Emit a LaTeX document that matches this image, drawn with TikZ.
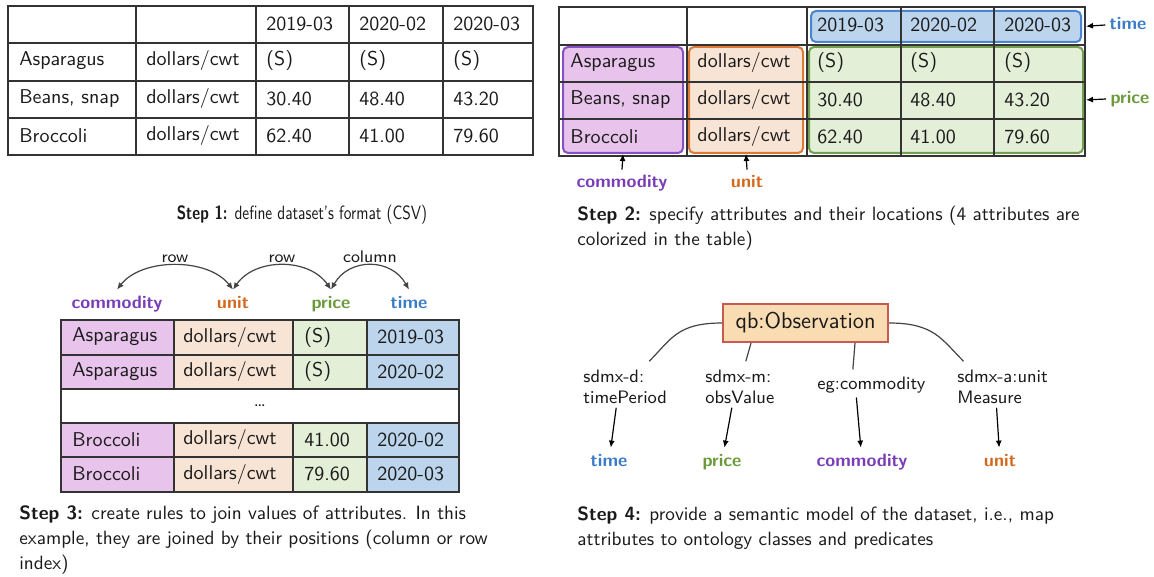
\documentclass[tikz,border=0pt]{standalone}
\usepackage{fontspec}
\usetikzlibrary{arrows.meta,calc}
\definecolor{cPurple}{HTML}{7A3DB8}
\definecolor{cPurpleFill}{HTML}{E8C4EC}
\definecolor{cPurpleLine}{HTML}{8A4FC0}
\definecolor{cOrange}{HTML}{D2691E}
\definecolor{cOrangeFill}{HTML}{F8E4D4}
\definecolor{cOrangeLine}{HTML}{DD7A35}
\definecolor{cGreen}{HTML}{6A9A3A}
\definecolor{cGreenFill}{HTML}{E4EFD8}
\definecolor{cGreenLine}{HTML}{72A050}
\definecolor{cBlue}{HTML}{3A7CC8}
\definecolor{cBlueFill}{HTML}{BDD5EC}
\definecolor{cBlueLine}{HTML}{4A86D0}
\definecolor{cObsFill}{HTML}{F9DCB2}
\definecolor{cObsLine}{HTML}{C85A50}
\definecolor{cGrid}{HTML}{333333}
\definecolor{cText}{HTML}{1A1A1A}
\definecolor{cEdge}{HTML}{444444}
\begin{document}
\begin{tikzpicture}[x=0.5pt,y=-0.5pt,
  cell/.style={anchor=west, inner sep=0pt, text=cText, font=\sffamily\fontsize{10}{12}\selectfont},
  attr/.style={inner sep=2pt, text height=7pt, text depth=2pt, font=\sffamily\bfseries\fontsize{9}{11}\selectfont},
  gridline/.style={draw=cGrid, line width=0.8pt},
  gridbold/.style={draw=cGrid, line width=1pt},
  region/.style={rounded corners=2.5pt, line width=1pt, inner sep=0pt},
  caption/.style={anchor=west, align=left, inner sep=0pt, text=cText, font=\sffamily\fontsize{9.6}{12.5}\selectfont},
  pred/.style={anchor=west, align=left, inner sep=2pt, text=cText, font=\sffamily\fontsize{9}{10.5}\selectfont},
  joinlbl/.style={midway, above, inner sep=1pt, text=cText, font=\sffamily\fontsize{8.4}{10}\selectfont},
  arr/.style={-{Latex[length=3.5pt,width=3pt]}, line width=0.6pt, draw=black},
  joinarc/.style={{Latex[length=3.5pt,width=3pt]}-{Latex[length=3.5pt,width=3pt]}, line width=0.6pt, draw=cEdge},
  edge/.style={line width=0.6pt, draw=cEdge}
]
\fill[white] (0,0) rectangle (1154,577);
\useasboundingbox (0,0) rectangle (1154,577);

%%%%%%%% Step 1 table
\draw[gridline] (8,6) rectangle (533,155);
\foreach \x in {136,256,349,443} \draw[gridline] (\x,6) -- (\x,155);
\foreach \y in {43,81,118} \draw[gridline] (8,\y) -- (533,\y);
\node[cell] (a13) at (266,23.5) {2019-03};
\node[cell] (a14) at (359,23.5) {2020-02};
\node[cell] (a15) at (453,23.5) {2020-03};
\node[cell] (a21) at (19,61) {Asparagus};
\node[cell] (a22) at (146,61) {dollars/cwt};
\node[cell] (a23) at (266,61) {(S)};
\node[cell] (a24) at (359,61) {(S)};
\node[cell] (a25) at (453,61) {(S)};
\node[cell] (a31) at (19,98.5) {Beans, snap};
\node[cell] (a32) at (146,98.5) {dollars/cwt};
\node[cell] (a33) at (266,98.5) {30.40};
\node[cell] (a34) at (359,98.5) {48.40};
\node[cell] (a35) at (453,98.5) {43.20};
\node[cell] (a41) at (19,135.5) {Broccoli};
\node[cell] (a42) at (146,135.5) {dollars/cwt};
\node[cell] (a43) at (266,135.5) {62.40};
\node[cell] (a44) at (359,135.5) {41.00};
\node[cell] (a45) at (453,135.5) {79.60};
\node[caption, anchor=center, xscale=0.8] (cap1) at (302,215) {\textbf{Step 1:} define dataset's format (CSV)};

%%%%%%%% Step 2 table
\node[region, draw=cPurpleLine, fill=cPurpleFill, minimum width=60pt, minimum height=53pt] (commbox) at (623,100) {};
\node[region, draw=cOrangeLine, fill=cOrangeFill, minimum width=57pt, minimum height=53pt] (unitbox) at (746,100) {};
\node[region, draw=cGreenLine, fill=cGreenFill, minimum width=137pt, minimum height=53pt] (pricebox) at (946,100) {};
\node[region, draw=cBlueLine, fill=cBlueFill, minimum width=135pt, minimum height=15.5pt] (timebox) at (946,26.5) {};
\draw[gridline] (559,7) rectangle (1085,156);
\foreach \x in {687,807,901,994} \draw[gridline] (\x,7) -- (\x,156);
\foreach \y in {45,82,119} \draw[gridline] (559,\y) -- (1085,\y);
\node[cell] (b13) at (817,25) {2019-03};
\node[cell] (b14) at (910,25) {2020-02};
\node[cell] (b15) at (1004,25) {2020-03};
\node[cell] (b21) at (570,62.5) {Asparagus};
\node[cell] (b22) at (697,62.5) {dollars/cwt};
\node[cell] (b23) at (817,62.5) {(S)};
\node[cell] (b24) at (910,62.5) {(S)};
\node[cell] (b25) at (1004,62.5) {(S)};
\node[cell] (b31) at (570,99.5) {Beans, snap};
\node[cell] (b32) at (697,99.5) {dollars/cwt};
\node[cell] (b33) at (817,99.5) {30.40};
\node[cell] (b34) at (910,99.5) {48.40};
\node[cell] (b35) at (1004,99.5) {43.20};
\node[cell] (b41) at (570,136.5) {Broccoli};
\node[cell] (b42) at (697,136.5) {dollars/cwt};
\node[cell] (b43) at (817,136.5) {62.40};
\node[cell] (b44) at (910,136.5) {41.00};
\node[cell] (b45) at (1004,136.5) {79.60};
\node[attr, text=cBlue] (time2) at (1128,25) {time};
\node[attr, text=cGreen] (price2) at (1130,99) {price};
\node[attr, text=cPurple] (comm2) at (622,183) {commodity};
\node[attr, text=cOrange] (unit2) at (747,183) {unit};
\draw[arr, shorten >=2pt] (time2.west) -- (timebox.east);
\draw[arr, shorten >=1pt] (price2.west) -- (pricebox.east);
\draw[arr] (comm2.north) -- (commbox.south);
\draw[arr] (unit2.north) -- (unitbox.south);
\node[caption] (cap2) at (577,228) {\textbf{Step 2:} specify attributes and their locations (4 attributes are\\colorized in the table)};

%%%%%%%% Step 3 table
\fill[cPurpleFill] (61,320) rectangle (174,389);
\fill[cOrangeFill] (174,320) rectangle (293,389);
\fill[cGreenFill] (293,320) rectangle (367,389);
\fill[cBlueFill] (367,320) rectangle (459,389);
\fill[cPurpleFill] (61,423) rectangle (174,492);
\fill[cOrangeFill] (174,423) rectangle (293,492);
\fill[cGreenFill] (293,423) rectangle (367,492);
\fill[cBlueFill] (367,423) rectangle (459,492);
\draw[gridbold] (61,320) rectangle (459,492);
\foreach \y in {355,389,423,457} \draw[gridbold] (61,\y) -- (459,\y);
\foreach \x in {174,293,367} {\draw[gridbold] (\x,320) -- (\x,389); \draw[gridbold] (\x,423) -- (\x,492);}
\node[cell] (c11) at (72,337) {Asparagus};
\node[cell] (c12) at (183,337) {dollars/cwt};
\node[cell] (c13) at (304,337) {(S)};
\node[cell] (c14) at (377,337) {2019-03};
\node[cell] (c21) at (72,371.5) {Asparagus};
\node[cell] (c22) at (183,371.5) {dollars/cwt};
\node[cell] (c23) at (304,371.5) {(S)};
\node[cell] (c24) at (377,371.5) {2020-02};
\node[cell, anchor=center] (cdots) at (260,406) {\dots};
\node[cell] (c31) at (72,439.5) {Broccoli};
\node[cell] (c32) at (183,439.5) {dollars/cwt};
\node[cell] (c33) at (304,439.5) {41.00};
\node[cell] (c34) at (377,439.5) {2020-02};
\node[cell] (c41) at (72,474) {Broccoli};
\node[cell] (c42) at (183,474) {dollars/cwt};
\node[cell] (c43) at (304,474) {79.60};
\node[cell] (c44) at (377,474) {2020-03};
\node[attr, text=cPurple] (comm3) at (117,303) {commodity};
\node[attr, text=cOrange] (unit3) at (233,303) {unit};
\node[attr, text=cGreen] (price3) at (331,303) {price};
\node[attr, text=cBlue] (time3) at (409,303) {time};
\draw[joinarc] (comm3.north) .. controls +(25,-32) and +(-25,-32) .. (unit3.north) node[joinlbl] {row};
\draw[joinarc] (unit3.north) .. controls +(22,-32) and +(-22,-32) .. (price3.north) node[joinlbl] {row};
\draw[joinarc] (price3.north) .. controls +(18,-32) and +(-18,-32) .. (time3.north) node[joinlbl] {column};
\node[caption] (cap3) at (19,540) {\textbf{Step 3:} create rules to join values of attributes. In this\\example, they are joined by their positions (column or row\\index)};

%%%%%%%% Step 4 semantic model
\node[draw=cObsLine, fill=cObsFill, line width=1pt, inner sep=0pt, minimum width=82.5pt, minimum height=19pt, text=cText, font=\sffamily\fontsize{11.4}{13}\selectfont] (obs) at (805.5,323) {qb:Observation};
\node[pred] (p1) at (579,386.5) {sdmx-d:\\timePeriod};
\node[pred] (p2) at (701,386.5) {sdmx-m:\\obsValue};
\node[pred] (p3) at (813,385) {eg:commodity};
\node[pred] (p4) at (953,386.5) {sdmx-a:unit\\Measure};
\node[attr, text=cBlue] (t1) at (609,461) {time};
\node[attr, text=cGreen] (t2) at (722,461) {price};
\node[attr, text=cPurple] (t3) at (862,461) {commodity};
\node[attr, text=cOrange] (t4) at (1000,461) {unit};
\draw[edge] (obs.west) .. controls +(-45,0) and +(22,-22) .. ($(p1.north)+(24,-4)$);
\draw[edge] ($(obs.south)+(-54.5,0)$) -- ($(p2.north)+(6,-4)$);
\draw[edge] ($(obs.south)+(49.5,0)$) -- ($(p3.north)+(-18.5,-3)$);
\draw[edge] (obs.east) .. controls +(45,0) and +(-22,-22) .. ($(p4.north)+(-39,-4)$);
\draw[arr] ($(p1.south)+(-9,0)$) -- (t1);
\draw[arr] ($(p2.south)+(-8,0)$) -- (t2);
\draw[arr] ($(p3.south)+(-15,0)$) -- (t3);
\draw[arr] ($(p4.south)+(-6,0)$) -- (t4);
\node[caption] (cap4) at (577,528) {\textbf{Step 4:} provide a semantic model of the dataset, i.e., map\\attributes to ontology classes and predicates};
\end{tikzpicture}
\end{document}
